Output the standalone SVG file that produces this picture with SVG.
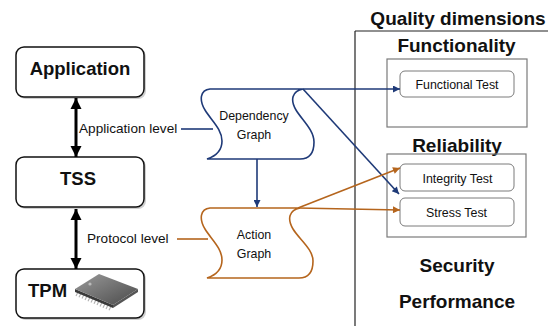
<svg xmlns="http://www.w3.org/2000/svg" width="548" height="326" viewBox="0 0 548 326">
<style>
text{font-family:"Liberation Sans",Arial,sans-serif;fill:#111}
.big{font-size:18.5px;font-weight:bold}
.title{font-size:19px;font-weight:bold;text-anchor:middle}
.lbl{font-size:13.6px}
.sm{font-size:12.4px;text-anchor:middle}
.box{fill:#fff;stroke:#111;stroke-width:1.5}
.shadow{fill:#d0d0d0}
.tbox{fill:#fff;stroke:#7a7a7a;stroke-width:1}
.grp{fill:none;stroke:#7a7a7a;stroke-width:1.2}
.navy{fill:none;stroke:#1f3a78;stroke-width:1.6}
.brown{fill:none;stroke:#b5651d;stroke-width:1.6}
.dbl{fill:none;stroke:#000;stroke-width:3}
</style>
<defs>
<marker id="ah-navy" viewBox="0 0 10 10" refX="10" refY="5" markerWidth="9" markerHeight="7" markerUnits="userSpaceOnUse" orient="auto"><path d="M0,0 L10,5 L0,10 Z" fill="#1f3a78"/></marker>
<marker id="ah-brown" viewBox="0 0 10 10" refX="10" refY="5" markerWidth="9" markerHeight="7" markerUnits="userSpaceOnUse" orient="auto"><path d="M0,0 L10,5 L0,10 Z" fill="#b5651d"/></marker>
<marker id="ah-blk" viewBox="0 0 10 10" refX="10" refY="5" markerWidth="11" markerHeight="12" markerUnits="userSpaceOnUse" orient="auto-start-reverse"><path d="M0,0 L10,5 L0,10 Z" fill="#000"/></marker>
<linearGradient id="chipg" x1="0" y1="0" x2="1" y2="1"><stop offset="0" stop-color="#9a9a9a"/><stop offset="1" stop-color="#4a4a4a"/></linearGradient>
</defs>

<g id="panel">
<line x1="355" y1="31" x2="548" y2="31" stroke="#222" stroke-width="1.2"/>
<line x1="355" y1="31" x2="355" y2="326" stroke="#222" stroke-width="1.2"/>
<text class="title" x="458" y="25">Quality dimensions</text>
</g>

<g id="functionality">
<text class="title" x="456.5" y="52">Functionality</text>
<rect class="grp" x="387" y="59" width="140" height="68"/>
</g>
<g id="functional-test">
<rect class="tbox" x="400" y="71" width="114" height="26" rx="5"/>
<text class="sm" x="457" y="88.5">Functional Test</text>
</g>

<g id="reliability">
<text class="title" x="457" y="151.5">Reliability</text>
<rect class="grp" x="387" y="154" width="139" height="83"/>
</g>
<g id="integrity-test">
<rect class="tbox" x="400" y="164" width="114" height="27" rx="5"/>
<text class="sm" x="457.5" y="183">Integrity Test</text>
</g>
<g id="stress-test">
<rect class="tbox" x="400" y="198" width="114" height="28" rx="5"/>
<text class="sm" x="456.5" y="216.5">Stress Test</text>
</g>

<g id="security"><text class="title" x="457" y="271.5">Security</text></g>
<g id="performance"><text class="title" x="457" y="308">Performance</text></g>

<g id="application">
<rect class="shadow" x="18" y="49" width="128" height="50" rx="8"/>
<rect class="box" x="16" y="47" width="128" height="50" rx="8"/>
<text class="big" x="80" y="74.5" text-anchor="middle">Application</text>
</g>
<g id="tss">
<rect class="shadow" x="18" y="159" width="128" height="50" rx="8"/>
<rect class="box" x="16" y="157" width="128" height="50" rx="8"/>
<text class="big" x="78" y="185" text-anchor="middle">TSS</text>
</g>
<g id="tpm">
<rect class="shadow" x="18" y="271" width="128" height="49" rx="8"/>
<rect class="box" x="16" y="269" width="128" height="49" rx="8"/>
<text class="big" x="28" y="297">TPM</text>
<g id="tpm-chip">
<g stroke="#b0b0b0" stroke-width="1.1">
<line x1="78" y1="292" x2="76" y2="296"/><line x1="81" y1="293.3" x2="79" y2="297.3"/><line x1="84" y1="294.6" x2="82" y2="298.6"/><line x1="87" y1="295.9" x2="85" y2="299.9"/><line x1="90" y1="297.2" x2="88" y2="301.2"/><line x1="93" y1="298.5" x2="91" y2="302.5"/><line x1="96" y1="299.8" x2="94" y2="303.8"/><line x1="99" y1="301.1" x2="97" y2="305.1"/><line x1="102" y1="302.4" x2="100" y2="306.4"/><line x1="105" y1="303.7" x2="103" y2="307.7"/><line x1="108" y1="305" x2="106" y2="309"/><line x1="111" y1="306.3" x2="109" y2="310.3"/>
</g>
<polygon points="75,289 113,305 113,308 75,292" fill="#3a3a3a"/>
<polygon points="113,305 138,289 138,292 113,308" fill="#555"/>
<polygon points="75,289 99,274 138,289 113,305" fill="url(#chipg)"/>
<circle cx="90" cy="284" r="1.6" fill="#bbb"/>
</g>
</g>

<g id="dependency-graph">
<path d="M210,89 L303,89 C292,91 290,100 296,110 C302,120 314,130 314,142 C314,152 310,159 300,159 L207,159 C216,156 222,150 222,141 C222,129 211,120 205,110 C199,100 200,90 210,89 Z" fill="#fff" stroke="#1f3a78" stroke-width="1.6"/>
<text class="sm" x="254" y="119.5">Dependency</text>
<text class="sm" x="254" y="139">Graph</text>
</g>
<g id="action-graph">
<path d="M210,208 L300,208 C289,210 287,219 293,229 C299,239 313,249 313,261 C313,271 309,278 299,278 L207,278 C216,275 222,269 222,260 C222,248 211,239 205,229 C199,219 200,209 210,208 Z" fill="#fff" stroke="#b5651d" stroke-width="1.6"/>
<text class="sm" x="254" y="239">Action</text>
<text class="sm" x="254" y="258">Graph</text>
</g>

<g id="labels">
<text class="lbl" x="79" y="133">Application level</text>
<text class="lbl" x="87" y="243">Protocol level</text>
</g>

<g id="connectors">
<line class="dbl" x1="76" y1="98" x2="76" y2="157" marker-start="url(#ah-blk)" marker-end="url(#ah-blk)"/>
<line class="dbl" x1="76" y1="209" x2="76" y2="269" marker-start="url(#ah-blk)" marker-end="url(#ah-blk)"/>
<line class="navy" x1="181" y1="129" x2="213" y2="129"/>
<line class="brown" x1="177" y1="239" x2="208" y2="239"/>
<line class="navy" x1="257" y1="159" x2="257" y2="207" marker-end="url(#ah-navy)"/>
<line class="navy" x1="303" y1="89" x2="400" y2="89" marker-end="url(#ah-navy)"/>
<line class="navy" x1="303" y1="89" x2="399" y2="194" marker-end="url(#ah-navy)"/>
<line class="brown" x1="298" y1="208" x2="400" y2="168" marker-end="url(#ah-brown)"/>
<line class="brown" x1="298" y1="208" x2="400" y2="210" marker-end="url(#ah-brown)"/>
</g>
</svg>
